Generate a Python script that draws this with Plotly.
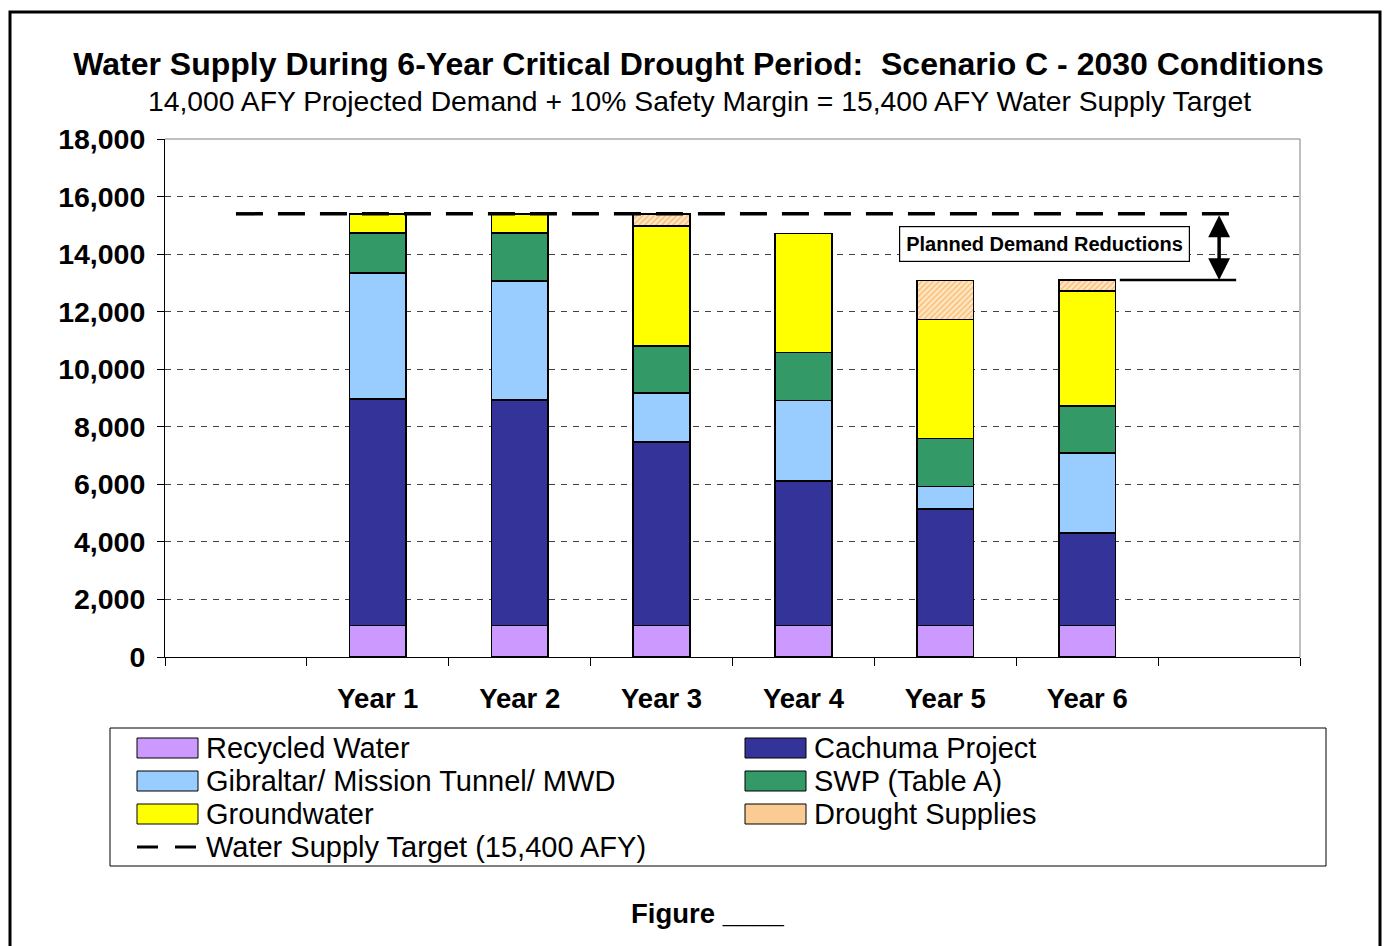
import plotly.graph_objects as go

categories = [" ", "Year 1", "Year 2", "Year 3", "Year 4", "Year 5", "Year 6", "  "]
years = ["Year 1", "Year 2", "Year 3", "Year 4", "Year 5", "Year 6"]

recycled = [1100, 1100, 1100, 1100, 1100, 1100]
cachuma = [7860, 7830, 6370, 5010, 4050, 3210]
gibraltar = [4380, 4130, 1700, 2800, 780, 2780]
swp = [1390, 1670, 1640, 1670, 1660, 1640]
groundwater = [670, 670, 4170, 4130, 4140, 3980]
drought = [0, 0, 420, 0, 1360, 390]

target_afy = 15400
reduced_supply = 13100
y_ticks = [0, 2000, 4000, 6000, 8000, 10000, 12000, 14000, 16000, 18000]

series_names = ["Recycled Water", "Cachuma Project", "Gibraltar/ Mission Tunnel/ MWD",
                "SWP (Table A)", "Groundwater", "Drought Supplies"]
target_name = "Water Supply Target (15,400 AFY)"

FONT = "Liberation Sans, Arial, sans-serif"
W, H = 1384, 946
ML, MR, MT, MB = 165, 84, 139, 289
PW, PH = W - ML - MR, H - MT - MB


def px(x):
    return (x - ML) / PW


def py(y):
    return (H - MB - y) / PH


colors = ["#CC99FF", "#333399", "#99CCFF", "#339966", "#FFFF00", "#FFE2C0"]
patterns = [None, None, None, None, None,
            dict(shape="/", fgcolor="#F7962F", bgcolor="#FFE9C8", size=4, solidity=0.45)]
values = [recycled, cachuma, gibraltar, swp, groundwater, drought]

fig = go.Figure()
for name, vals, color, pattern in zip(series_names, values, colors, patterns):
    marker = dict(color=color, line=dict(color="black", width=1.5))
    if pattern:
        marker["pattern"] = pattern
    fig.add_trace(go.Bar(name=name, x=years, y=vals, marker=marker, showlegend=False))

fig.add_trace(go.Scatter(
    name=target_name, x=categories,
    y=[target_afy] * len(categories), mode="lines", showlegend=False,
    line=dict(color="black", width=3.5, dash="27px,15px"),
))

# Planned demand reductions arrow + baseline
fig.add_annotation(x=6.93, y=reduced_supply, ax=6.93, ay=target_afy, xref="x", yref="y",
                   axref="x", ayref="y", text="", showarrow=True, arrowside="end+start",
                   arrowhead=2, arrowsize=1.25, arrowwidth=3.5, arrowcolor="black")
fig.add_shape(type="line", xref="x", yref="y", x0=6.23, x1=7.05,
              y0=reduced_supply, y1=reduced_supply, line=dict(color="black", width=2.5))
fig.add_annotation(x=5.70, y=14350, xref="x", yref="y", text="<b>Planned Demand Reductions</b>",
                   showarrow=False, font=dict(family=FONT, size=20, color="black"),
                   bordercolor="black", borderwidth=1.2, borderpad=6, bgcolor="white")

# Plot-area top/right border (gray)
fig.add_shape(type="line", xref="paper", yref="paper", x0=0, x1=1, y0=1, y1=1,
              line=dict(color="#808080", width=1))
fig.add_shape(type="line", xref="paper", yref="paper", x0=1, x1=1, y0=0, y1=1,
              line=dict(color="#808080", width=1))

# Outer page border
fig.add_shape(type="rect", xref="paper", yref="paper", x0=px(10), x1=px(1380),
              y0=py(960), y1=py(12), line=dict(color="black", width=3), layer="below")

# Legend (drawn as a boxed key)
fig.add_shape(type="rect", xref="paper", yref="paper", x0=px(110), x1=px(1326),
              y0=py(866), y1=py(728), line=dict(color="black", width=1), fillcolor="white",
              layer="below")
swatch_fill = ["#CC99FF", "#333399", "#99CCFF", "#339966", "#FFFF00", "#FBCB94"]
col_x = [137, 745]
row_y = [748, 781, 814, 847]
LEG_FONT = 29
for i, (name, fill) in enumerate(zip(series_names, swatch_fill)):
    cx = col_x[i % 2]
    cy = row_y[i // 2]
    fig.add_shape(type="rect", xref="paper", yref="paper", x0=px(cx), x1=px(cx + 61),
                  y0=py(cy + 10), y1=py(cy - 10), fillcolor=fill,
                  line=dict(color="black", width=1))
    fig.add_annotation(x=px(cx + 68), y=py(cy), xref="paper", yref="paper", xanchor="left",
                       yanchor="middle", text=name, showarrow=False, borderpad=0,
                       font=dict(family=FONT, size=LEG_FONT, color="black"))
for x0, x1 in [(137, 158), (175, 196)]:
    fig.add_shape(type="line", xref="paper", yref="paper", x0=px(x0), x1=px(x1),
                  y0=py(row_y[3]), y1=py(row_y[3]), line=dict(color="black", width=3))
fig.add_annotation(x=px(205), y=py(row_y[3]), xref="paper", yref="paper", xanchor="left",
                   yanchor="middle", text=target_name, showarrow=False, borderpad=0,
                   font=dict(family=FONT, size=LEG_FONT, color="black"))

# Subtitle and figure caption
fig.add_annotation(x=px(699), xref="paper", y=py(101), yref="paper", yanchor="middle",
                   text="14,000 AFY Projected Demand + 10% Safety Margin = 15,400 AFY Water Supply Target",
                   showarrow=False, font=dict(family=FONT, size=28.3, color="black"))
fig.add_annotation(x=px(708), xref="paper", y=py(913), yref="paper", yanchor="middle",
                   text="<b>Figure ____</b>", showarrow=False,
                   font=dict(family=FONT, size=27.5, color="black"))

fig.update_layout(
    width=W, height=H,
    margin=dict(l=ML, r=MR, t=MT, b=MB),
    paper_bgcolor="white", plot_bgcolor="white",
    barmode="stack", bargap=0.6,
    font=dict(family=FONT, color="black"),
    title=dict(text="<b>Water Supply During 6-Year Critical Drought Period:  Scenario C - 2030 Conditions</b>",
               x=698.5 / W, xanchor="center", y=1 - 64 / H, yanchor="middle",
               font=dict(family=FONT, size=32, color="black")),
    xaxis=dict(type="category", categoryorder="array", categoryarray=categories,
               range=[-0.5, 7.5], tickson="boundaries", ticks="outside", ticklen=8,
               tickcolor="black", tickwidth=1, showline=True, linecolor="black", linewidth=1,
               showgrid=False, ticklabelstandoff=17,
               tickfont=dict(family=FONT, size=27.5, color="black", weight="bold")),
    yaxis=dict(range=[0, 18000], tickvals=y_ticks, tickformat=",", ticks="outside",
               ticklen=7, tickcolor="black", showline=True, linecolor="black", linewidth=1,
               showgrid=True, gridcolor="#444444", gridwidth=1, griddash="6px,6px",
               zeroline=False, ticklabelstandoff=6,
               tickfont=dict(family=FONT, size=28.5, color="black", weight="bold")),
    showlegend=False,
)

fig.write_html("out.html")
